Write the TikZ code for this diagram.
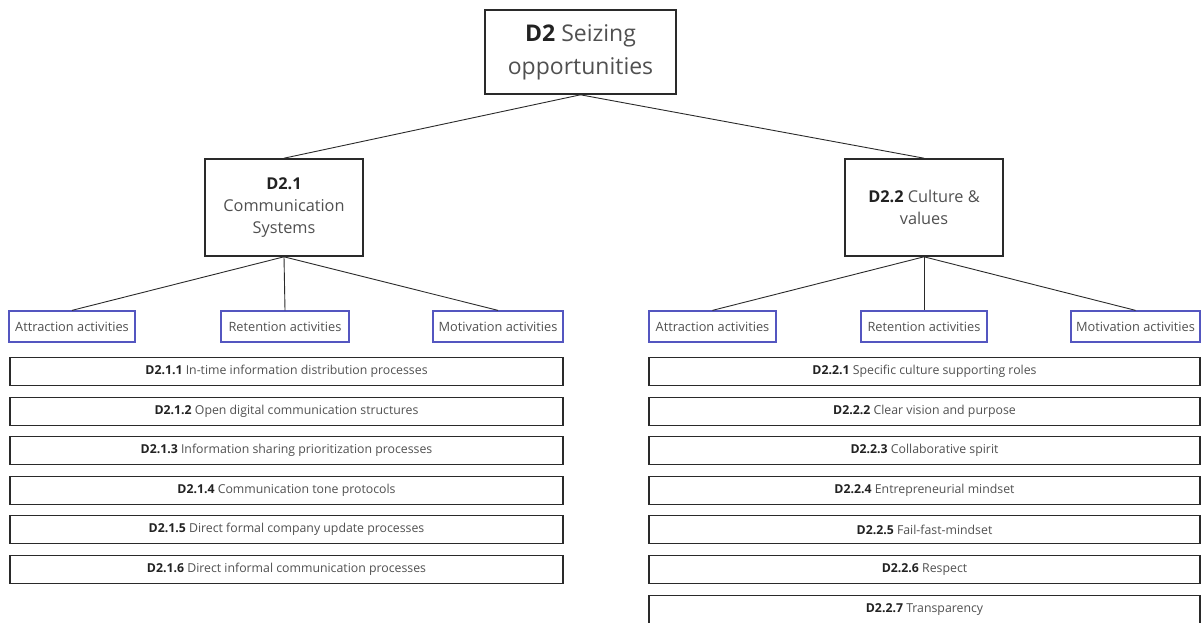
\documentclass[tikz,border=0pt]{standalone}
\usepackage{fontspec}
\setmainfont{Open Sans}
\definecolor{txt}{HTML}{505050}
\definecolor{bld}{HTML}{222222}
\definecolor{edge}{HTML}{2A2A2A}
\definecolor{act}{HTML}{5456C0}
\begin{document}
\begin{tikzpicture}[x=1pt,y=-1pt,
  every node/.style={inner sep=0pt,align=center,text=txt},
  root/.style={draw=edge,line width=1.6pt,minimum width=191pt,minimum height=84pt,
    font=\fontsize{23}{33}\selectfont},
  dim/.style={draw=edge,line width=1.6pt,minimum width=158pt,minimum height=97pt,
    font=\fontsize{16.3}{22}\selectfont},
  actbox/.style={draw=act,line width=1.3pt,minimum height=31pt,
    font=\fontsize{12.8}{14}\selectfont},
  item/.style={draw=edge,line width=1.4pt,minimum height=28pt,
    font=\fontsize{12.3}{13}\selectfont},
  link/.style={draw=edge,line width=0.9pt}]
\useasboundingbox (0,0) rectangle (1201,622);

% root and the two sub-dimensions
\node[root] (d2) at (580.5,52) {\textbf{\color{bld}D2} Seizing\\opportunities};
\node[dim] (d21) at (284,207.5) {\textbf{\color{bld}D2.1}\\Communication\\Systems};
\node[dim] (d22) at (924,207.5) {\textbf{\color{bld}D2.2} Culture \&\\values};

% activity boxes
\node[actbox,minimum width=126pt] (a1) at (72,326.5) {Attraction activities};
\node[actbox,minimum width=128pt] (r1) at (285,326.5) {Retention activities};
\node[actbox,minimum width=130pt] (m1) at (498,326.5) {Motivation activities};
\node[actbox,minimum width=127pt] (a2) at (712.5,326.5) {Attraction activities};
\node[actbox,minimum width=126pt] (r2) at (924,326.5) {Retention activities};
\node[actbox,minimum width=129pt] (m2) at (1135.5,326.5) {Motivation activities};

% items of D2.1
\begin{scope}[every node/.append style={item,minimum width=553pt}]
\node (i11) at (286.5,371.5) {\textbf{\color{bld}D2.1.1} In-time information distribution processes};
\node (i12) at (286.5,411.5) {\textbf{\color{bld}D2.1.2} Open digital communication structures};
\node (i13) at (286.5,450.5) {\textbf{\color{bld}D2.1.3} Information sharing prioritization processes};
\node (i14) at (286.5,490.5) {\textbf{\color{bld}D2.1.4} Communication tone protocols};
\node (i15) at (286.5,529.5) {\textbf{\color{bld}D2.1.5} Direct formal company update processes};
\node (i16) at (286.5,569.5) {\textbf{\color{bld}D2.1.6} Direct informal communication processes};
\end{scope}

% items of D2.2
\begin{scope}[every node/.append style={item,minimum width=551pt}]
\node (i21) at (924.5,371.5) {\textbf{\color{bld}D2.2.1} Specific culture supporting roles};
\node (i22) at (924.5,411.5) {\textbf{\color{bld}D2.2.2} Clear vision and purpose};
\node (i23) at (924.5,450.5) {\textbf{\color{bld}D2.2.3} Collaborative spirit};
\node (i24) at (924.5,490.5) {\textbf{\color{bld}D2.2.4} Entrepreneurial mindset};
\node (i25) at (924.5,529.5) {\textbf{\color{bld}D2.2.5} Fail-fast-mindset};
\node (i26) at (924.5,569.5) {\textbf{\color{bld}D2.2.6} Respect};
\node (i27) at (924.5,609.5) {\textbf{\color{bld}D2.2.7} Transparency};
\end{scope}

% connectors
\draw[link] (d2.south) -- (d21.north);
\draw[link] (d2.south) -- (d22.north);
\foreach \c in {a1,r1,m1} \draw[link] (d21.south) -- (\c.north);
\foreach \c in {a2,r2,m2} \draw[link] (d22.south) -- (\c.north);
\end{tikzpicture}
\end{document}
